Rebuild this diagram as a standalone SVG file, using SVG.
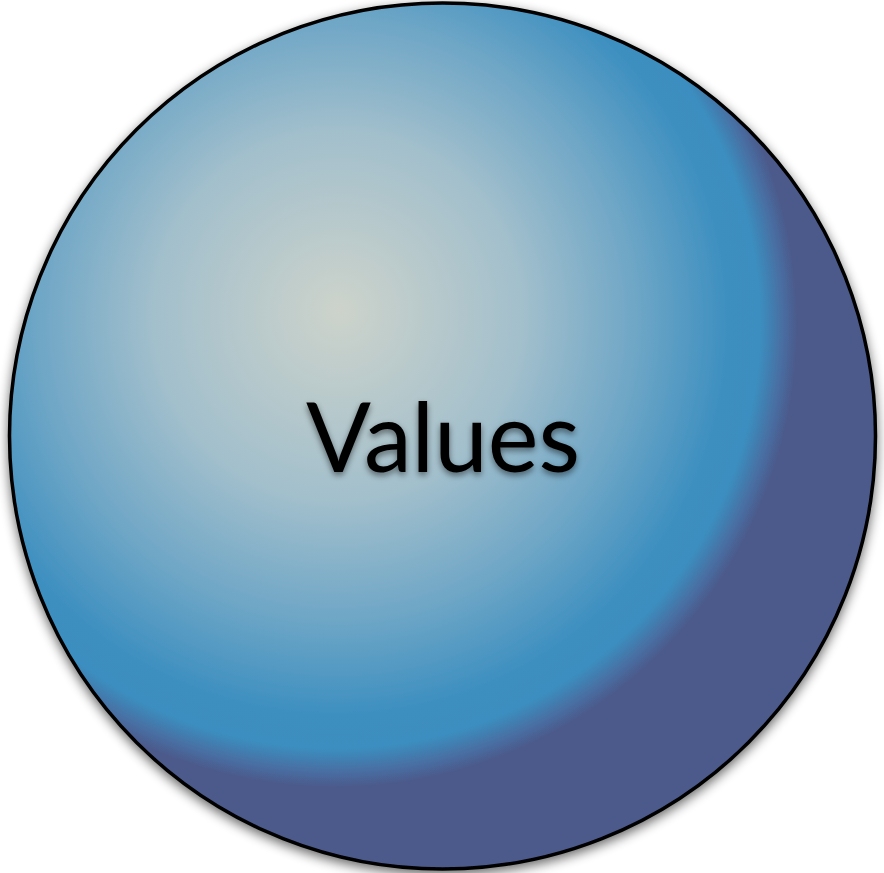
<svg xmlns="http://www.w3.org/2000/svg" width="884" height="873" viewBox="0 0 884 873">
<defs>
<radialGradient id="sph" gradientUnits="userSpaceOnUse" cx="335" cy="325" r="462" fx="340" fy="310">
<stop offset="0" stop-color="#cdd3cb"/>
<stop offset="0.4" stop-color="#a2bfcc"/>
<stop offset="0.65" stop-color="#6ea6c6"/>
<stop offset="0.85" stop-color="#3d8fc0"/>
<stop offset="0.92" stop-color="#3b8ebf"/>
<stop offset="0.975" stop-color="#4a6a9e"/>
<stop offset="1" stop-color="#4b5a8b"/>
</radialGradient>
<filter id="sh" x="-10%" y="-10%" width="120%" height="120%">
<feGaussianBlur in="SourceAlpha" stdDeviation="6"/>
<feOffset dx="0" dy="4"/>
<feComponentTransfer><feFuncA type="linear" slope="0.6"/></feComponentTransfer>
<feMerge><feMergeNode/><feMergeNode in="SourceGraphic"/></feMerge>
</filter>
<filter id="tsh" x="-10%" y="-20%" width="120%" height="150%">
<feGaussianBlur in="SourceAlpha" stdDeviation="3"/>
<feOffset dx="0" dy="3"/>
<feComponentTransfer><feFuncA type="linear" slope="0.5"/></feComponentTransfer>
<feMerge><feMergeNode/><feMergeNode in="SourceGraphic"/></feMerge>
</filter>
</defs>
<style>
.lbl{font-family:"Lato","Open Sans","Liberation Sans",sans-serif;font-size:96px;fill:#000;}
</style>
<g id="values">
<circle cx="442.5" cy="436" r="433" fill="url(#sph)" stroke="#000" stroke-width="3.5" filter="url(#sh)"/>
<text class="lbl" x="443" y="472" text-anchor="middle" filter="url(#tsh)">Values</text>
</g>
<g id="connectors"/>
</svg>
